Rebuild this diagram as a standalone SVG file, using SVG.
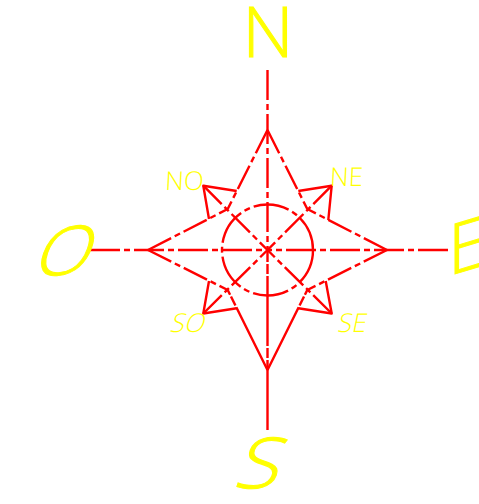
<svg xmlns="http://www.w3.org/2000/svg" width="479" height="504" viewBox="0 0 479 504">
<style>
.l{fill:none;stroke:#f00;stroke-width:2.4;stroke-linecap:butt;stroke-linejoin:round}
.dd{stroke-dasharray:30 4 6 4}
.d{stroke-dasharray:26 4 6 4}
.s{stroke-dasharray:70 2 10 2}
text{font-family:"Open Sans","Liberation Sans",sans-serif;font-weight:300;fill:#ff0;text-anchor:middle}
.b{stroke:#ff0;stroke-width:1}
</style>
<rect width="479" height="504" fill="#fff"/>
<g id="connectors">
<path class="l dd" d="M267.5 70V250"/>
<path class="l s" d="M267.5 430V250"/>
<path class="l dd" d="M90 250H267.5"/>
<path class="l dd" d="M448 250H267.5"/>
<path class="l d" d="M267.5 130L227.7 209"/>
<path class="l d" d="M267.5 130L307.3 209"/>
<path class="l d" d="M148 250L227.7 209"/>
<path class="l d" d="M387 250L307.3 209"/>
<path class="l d" d="M148 250L227.7 290"/>
<path class="l d" d="M387 250L307.3 290"/>
<path class="l s" d="M267.5 370L227.7 290"/>
<path class="l s" d="M267.5 370L307.3 290"/>
<path class="l d" d="M203.3 185.7L267.5 250"/>
<path class="l d" d="M331.7 185.7L267.5 250"/>
<path class="l d" d="M203.3 313.5L267.5 250"/>
<path class="l d" d="M331.7 313.5L267.5 250"/>
<path class="l" d="M236.7 191L203.3 185.7L209 219"/>
<path class="l" d="M298.3 191L331.7 185.7L328.3 220"/>
<path class="l" d="M236.7 308.3L203.3 313.5L209 281"/>
<path class="l" d="M298.3 308.3L331.7 313.5L325.7 281"/>
<circle class="l" cx="267.5" cy="250" r="45.5" stroke-dasharray="36 4 6 4"/>
</g>
<g id="label-n"><text class="b" transform="translate(268 57) scale(1.02 1)" font-size="70">N</text></g>
<g id="label-s"><text class="b" transform="matrix(1.15 0 -.35 1 254 488)" font-size="70">S</text></g>
<g id="label-o"><text class="b" transform="matrix(1.1 -.12 -.35 1 59 275)" font-size="68">O</text></g>
<g id="label-e"><text class="b" style="text-anchor:start" transform="matrix(1 -.3 0 1 448 276)" font-size="70">E</text></g>
<g id="label-no"><text transform="matrix(1 0 -.05 1 184 190)" font-size="26">NO</text></g>
<g id="label-ne"><text transform="matrix(1 0 -.05 1 346 186)" font-size="26">NE</text></g>
<g id="label-so"><text transform="matrix(1 0 -.3 1 186 332)" font-size="26">SO</text></g>
<g id="label-se"><text transform="matrix(1 0 -.2 1 351 332)" font-size="26">SE</text></g>
</svg>
